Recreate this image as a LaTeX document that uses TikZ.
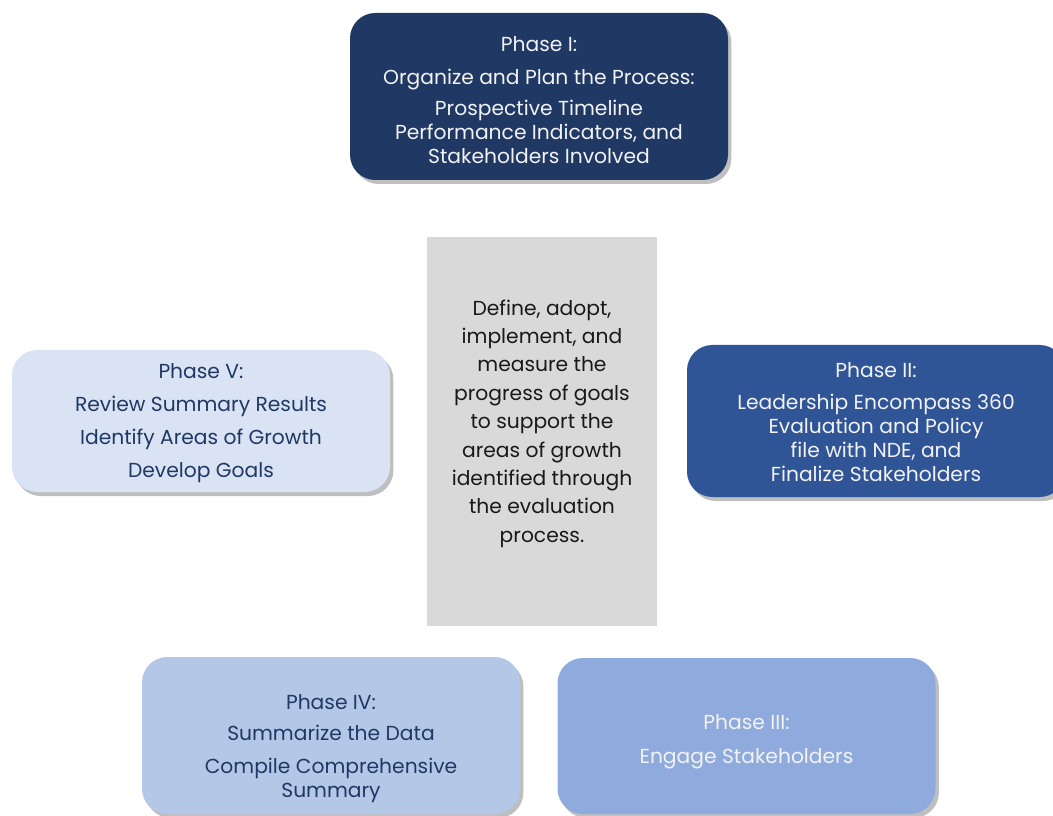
\documentclass[tikz,border=0pt]{standalone}
\usepackage{fontspec}
\setmainfont{Poppins}
\usetikzlibrary{shadows}
\definecolor{navy}{HTML}{203864}
\definecolor{blueII}{HTML}{2F5597}
\definecolor{blueIII}{HTML}{8FAADC}
\definecolor{blueIV}{HTML}{B4C7E7}
\definecolor{blueV}{HTML}{DAE3F3}
\definecolor{centergray}{HTML}{D9D9D9}
\definecolor{txtdark}{HTML}{1F3864}
\definecolor{softwhite}{HTML}{F2F2F2}
\newcommand{\topfix}[1]{\rule{0pt}{#1}}
\newcommand{\botfix}[1]{\rule[-#1]{0pt}{0pt}}
\tikzset{
  phasebox/.style={rectangle, rounded corners=19pt, align=center, inner sep=0pt,
    minimum width=283.5pt, font=\fontsize{15.2pt}{18pt}\selectfont,
    drop shadow={shadow xshift=2.5pt, shadow yshift=-3pt, fill=black, opacity=0.25}},
  centerbox/.style={rectangle, fill=centergray, align=center, inner sep=0pt,
    minimum width=172.5pt, minimum height=291.75pt, text=black!90,
    font=\fontsize{15.2pt}{21.3pt}\selectfont}
}
\begin{document}
\begin{tikzpicture}[x=0.75pt,y=-0.75pt]
\clip (0,0) rectangle (1053,816);
\fill[white] (0,0) rectangle (1053,816);
\node[phasebox, fill=navy, text=softwhite, minimum height=125.25pt] (p1) at (539,96.5)
  {\topfix{17pt}Phase I:\\[6.5pt] Organize and Plan the Process:\\[5.25pt] Prospective Timeline\\ Performance Indicators, and\\ Stakeholders Involved};
\node[centerbox] (c) at (542,431.5)
  {Define, adopt,\\ implement, and\\ measure the\\ progress of goals\\ to support the\\ areas of growth\\ identified through\\ the evaluation\\ process.\botfix{15.8pt}};
\node[phasebox, fill=blueV, text=txtdark, minimum height=106.5pt] (p5) at (201,421)
  {\topfix{14.8pt}Phase V:\\[6.75pt] Review Summary Results\\[6.75pt] Identify Areas of Growth\\[6.75pt] Develop Goals};
\node[phasebox, fill=blueII, text=softwhite, minimum height=114pt] (p2) at (876,421)
  {\topfix{12.7pt}Phase II:\\[6pt] Leadership Encompass 360\\ Evaluation and Policy\\ file with NDE, and\\ Finalize Stakeholders};
\node[phasebox, fill=blueIV, text=txtdark, minimum height=117.75pt] (p4) at (331,735.5)
  {\topfix{30.7pt}Phase IV:\\[5.25pt] Summarize the Data\\[6.75pt] Compile Comprehensive\\ Summary};
\node[phasebox, fill=blueIII, text=softwhite, minimum height=117pt] (p3) at (746.5,736)
  {\topfix{20.2pt}Phase III:\\[7.5pt] Engage Stakeholders};
\end{tikzpicture}
\end{document}
